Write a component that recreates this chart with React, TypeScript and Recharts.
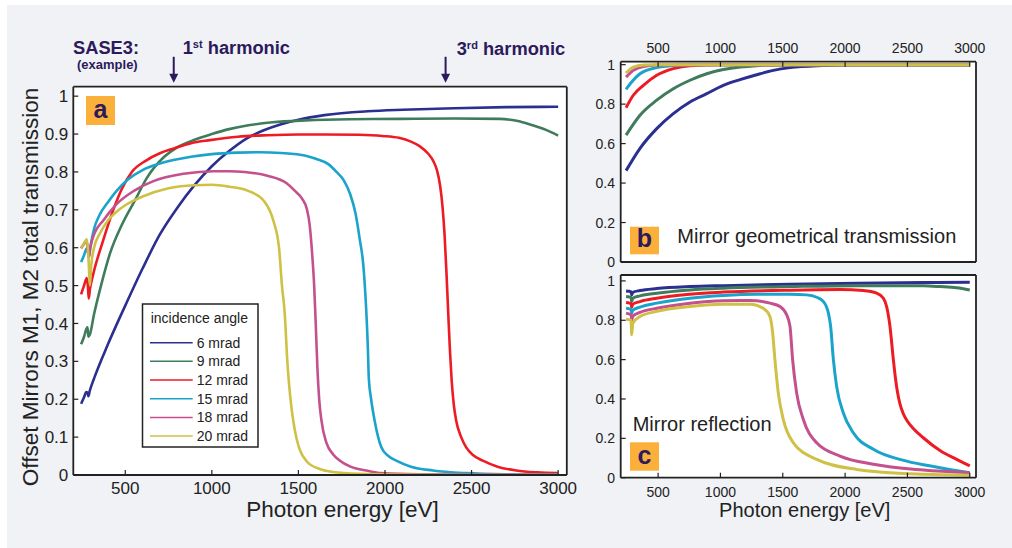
import { LineChart, Line, XAxis, YAxis, ReferenceLine, CartesianGrid } from "recharts";

const FONT = '"Liberation Sans", Arial, Helvetica, sans-serif';
const INK = "#222";
const NAVY = "#2d1a5c";
const ORANGE = "#fbb03b";

const angles = ["6 mrad", "9 mrad", "12 mrad", "15 mrad", "18 mrad", "20 mrad"];
const colors = ["#2b3090", "#3f7c5c", "#ed1c24", "#1aa3cb", "#c4508d", "#cfc145"];

const energyDomain: [number, number] = [200, 3050];
const energyTicks = [500, 1000, 1500, 2000, 2500, 3000];
const totalTicks = [0, 0.1, 0.2, 0.3, 0.4, 0.5, 0.6, 0.7, 0.8, 0.9, 1];
const fracTicks = [0, 0.2, 0.4, 0.6, 0.8, 1];
const harmonics = [780, 2350];

// (a) total transmission of the two offset mirrors
const totE6 = [245, 262, 275, 282, 287, 295, 320, 400, 500, 600, 700, 800, 900, 1000, 1100, 1200, 1300, 1400, 1500, 1650, 1900, 2100, 2400, 2700, 3000];
const tot6 = [0.188, 0.205, 0.219, 0.217, 0.208, 0.222, 0.255, 0.345, 0.447, 0.545, 0.635, 0.705, 0.765, 0.815, 0.855, 0.888, 0.91, 0.926, 0.938, 0.95, 0.96, 0.964, 0.968, 0.971, 0.972];
const totE9 = [245, 262, 275, 282, 287, 295, 320, 360, 412, 480, 556, 626, 725, 800, 900, 1000, 1100, 1211, 1350, 1542, 1800, 2100, 2400, 2661, 2760, 2853, 2930, 3000];
const tot9 = [0.345, 0.365, 0.385, 0.39, 0.365, 0.37, 0.425, 0.5, 0.585, 0.66, 0.725, 0.785, 0.84, 0.865, 0.885, 0.9, 0.913, 0.923, 0.931, 0.936, 0.939, 0.94, 0.941, 0.94, 0.935, 0.923, 0.911, 0.896];
const totE12 = [245, 262, 278, 284, 289, 296, 315, 373, 431, 480, 538, 620, 703, 780, 880, 990, 1150, 1321, 1500, 1653, 1850, 1984, 2080, 2150, 2200, 2250, 2280, 2300, 2318, 2332, 2344, 2355, 2365, 2375, 2385, 2397, 2411, 2440, 2469, 2510, 2565, 2650, 2758, 2880, 3000];
const tot12 = [0.477, 0.5, 0.52, 0.5, 0.466, 0.49, 0.53, 0.62, 0.7, 0.755, 0.8, 0.83, 0.85, 0.862, 0.876, 0.884, 0.893, 0.897, 0.899, 0.899, 0.898, 0.895, 0.89, 0.88, 0.868, 0.848, 0.828, 0.805, 0.765, 0.71, 0.635, 0.535, 0.43, 0.33, 0.25, 0.187, 0.144, 0.1, 0.073, 0.052, 0.038, 0.022, 0.012, 0.007, 0.005];
const totE15 = [245, 262, 277, 284, 290, 298, 320, 350, 400, 450, 515, 600, 700, 880, 1000, 1150, 1277, 1400, 1542, 1600, 1675, 1720, 1763, 1800, 1830, 1855, 1874, 1890, 1900, 1907, 1920, 1940, 1979, 2020, 2065, 2150, 2277, 2469, 2700, 3000];
const tot15 = [0.562, 0.58, 0.598, 0.59, 0.575, 0.6, 0.65, 0.685, 0.72, 0.75, 0.78, 0.805, 0.822, 0.84, 0.847, 0.851, 0.852, 0.85, 0.843, 0.835, 0.82, 0.8, 0.777, 0.74, 0.69, 0.62, 0.558, 0.45, 0.35, 0.252, 0.2, 0.144, 0.073, 0.05, 0.038, 0.022, 0.012, 0.005, 0.002, 0.001];
const totE18 = [245, 262, 277, 284, 290, 298, 320, 373, 450, 550, 659, 836, 1012, 1100, 1189, 1321, 1432, 1480, 1520, 1550, 1565, 1580, 1591, 1600, 1610, 1620, 1633, 1662, 1700, 1738, 1800, 1892, 1979, 2200, 2600, 3000];
const tot18 = [0.598, 0.61, 0.617, 0.595, 0.575, 0.6, 0.635, 0.672, 0.715, 0.75, 0.775, 0.795, 0.802, 0.802, 0.8, 0.79, 0.77, 0.75, 0.73, 0.7, 0.66, 0.58, 0.5, 0.4, 0.28, 0.2, 0.144, 0.085, 0.055, 0.038, 0.022, 0.012, 0.005, 0.002, 0.001, 0];
const totE20 = [245, 262, 277, 284, 290, 296, 303, 320, 354, 400, 450, 500, 600, 750, 900, 1000, 1100, 1210, 1300, 1355, 1388, 1405, 1421, 1436, 1452, 1470, 1490, 1507, 1550, 1623, 1700, 1850, 2100, 2500, 3000];
const tot20 = [0.6, 0.612, 0.622, 0.6, 0.55, 0.5, 0.55, 0.6, 0.638, 0.672, 0.695, 0.712, 0.735, 0.757, 0.765, 0.766, 0.761, 0.75, 0.724, 0.672, 0.6, 0.5, 0.427, 0.3, 0.21, 0.144, 0.095, 0.068, 0.035, 0.016, 0.008, 0.003, 0.001, 0, 0];

// (b) geometrical transmission
const geoE6 = [243, 355, 489, 622, 756, 890, 1023, 1157, 1291, 1424, 1558, 1825, 2093, 3000];
const geo6 = [0.463, 0.576, 0.676, 0.752, 0.811, 0.853, 0.895, 0.924, 0.949, 0.971, 0.985, 0.996, 1, 1];
const geoE9 = [243, 355, 489, 622, 756, 890, 1023, 1157, 1291, 1558, 3000];
const geo9 = [0.643, 0.744, 0.82, 0.878, 0.921, 0.954, 0.975, 0.988, 0.995, 1, 1];
const geoE12 = [243, 301, 382, 489, 622, 756, 1023, 3000];
const geo12 = [0.782, 0.845, 0.895, 0.946, 0.98, 0.995, 1, 1];
const geoE15 = [243, 288, 355, 489, 622, 756, 3000];
const geo15 = [0.875, 0.912, 0.954, 0.985, 0.996, 1, 1];
const geoE18 = [243, 301, 382, 489, 756, 3000];
const geo18 = [0.937, 0.971, 0.991, 0.998, 1, 1];
const geoE20 = [243, 301, 382, 489, 3000];
const geo20 = [0.958, 0.988, 0.998, 1, 1];

// (c) mirror reflectivity
const refE6 = [243, 270, 283, 288, 297, 355, 489, 756, 1023, 1558, 2093, 2627, 3000];
const ref6 = [0.949, 0.947, 0.945, 0.929, 0.942, 0.951, 0.961, 0.971, 0.976, 0.983, 0.988, 0.992, 0.993];
const refE9 = [243, 270, 283, 288, 297, 355, 489, 756, 1023, 1558, 2093, 2627, 2761, 2895, 3000];
const ref9 = [0.921, 0.918, 0.916, 0.895, 0.912, 0.924, 0.9375, 0.954, 0.963, 0.971, 0.976, 0.975, 0.971, 0.965, 0.954];
const refE12 = [243, 270, 283, 288, 297, 355, 489, 756, 1023, 1558, 1960, 2146, 2253, 2307, 2333, 2360, 2387, 2405, 2420, 2440, 2467, 2500, 2547, 2627, 2761, 2895, 3000];
const ref12 = [0.89, 0.887, 0.885, 0.866, 0.882, 0.895, 0.912, 0.932, 0.943, 0.953, 0.956, 0.951, 0.938, 0.912, 0.87, 0.769, 0.6, 0.5, 0.435, 0.375, 0.325, 0.287, 0.25, 0.203, 0.138, 0.093, 0.06];
const refE15 = [243, 270, 283, 288, 297, 355, 489, 756, 1023, 1290, 1558, 1691, 1771, 1826, 1866, 1884, 1906, 1932, 1986, 2066, 2227, 2494, 2761, 3000];
const ref15 = [0.861, 0.858, 0.856, 0.836, 0.851, 0.867, 0.887, 0.912, 0.926, 0.932, 0.932, 0.929, 0.917, 0.895, 0.836, 0.769, 0.6, 0.464, 0.329, 0.228, 0.144, 0.084, 0.051, 0.025];
const refE18 = [243, 270, 283, 288, 297, 355, 489, 756, 1023, 1237, 1398, 1478, 1531, 1558, 1579, 1611, 1665, 1772, 1959, 2227, 2627, 3000];
const ref18 = [0.836, 0.831, 0.829, 0.802, 0.82, 0.84, 0.861, 0.887, 0.899, 0.9, 0.887, 0.87, 0.828, 0.769, 0.6, 0.431, 0.296, 0.177, 0.11, 0.068, 0.039, 0.025];
const refE20 = [243, 270, 283, 288, 297, 355, 489, 756, 1023, 1237, 1343, 1397, 1419, 1437, 1464, 1504, 1585, 1772, 2093, 2627, 3000];
const ref20 = [0.806, 0.802, 0.8, 0.726, 0.785, 0.819, 0.845, 0.87, 0.882, 0.882, 0.861, 0.819, 0.735, 0.6, 0.431, 0.296, 0.177, 0.093, 0.042, 0.017, 0.012];

const zip = (e: number[], v: number[]) => e.map((x, i) => ({ e: x, v: v[i] }));

const totalSeries = [
  zip(totE6, tot6), zip(totE9, tot9), zip(totE12, tot12),
  zip(totE15, tot15), zip(totE18, tot18), zip(totE20, tot20),
];
const geoSeries = [
  zip(geoE6, geo6), zip(geoE9, geo9), zip(geoE12, geo12),
  zip(geoE15, geo15), zip(geoE18, geo18), zip(geoE20, geo20),
];
const refSeries = [
  zip(refE6, ref6), zip(refE9, ref9), zip(refE12, ref12),
  zip(refE15, ref15), zip(refE18, ref18), zip(refE20, ref20),
];

const fmt = (v: number) => (v === 0 || v === 1 ? String(v) : v.toFixed(1));

const axisCommon = {
  stroke: INK,
  allowDataOverflow: true,
  tickSize: -5,
  interval: 0 as const,
  axisLine: { strokeWidth: 1.8 },
  tickLine: { strokeWidth: 1.2 },
};

// vertical arrow pointing down at a harmonic energy
const Arrow = (p: any) => {
  const { x1, y1, x2, y2 } = p;
  return (
    <g>
      <line x1={x1} y1={y1} x2={x2} y2={y2 - 8} stroke={NAVY} strokeWidth={2} />
      <polygon points={`${x2 - 4.5},${y2 - 9} ${x2 + 4.5},${y2 - 9} ${x2},${y2}`} fill={NAVY} />
    </g>
  );
};

function PanelA() {
  const tick = { fill: INK, fontSize: 17, fontFamily: FONT };
  return (
    <LineChart width={600} height={548} margin={{ top: 0, right: 0, bottom: 0, left: 0 }}>
      <CartesianGrid fill="#fff" horizontal={false} vertical={false} />
      <XAxis {...axisCommon} dataKey="e" type="number" domain={energyDomain} ticks={energyTicks}
        height={73} tickMargin={12} tick={tick} />
      <XAxis {...axisCommon} xAxisId="top" orientation="top" dataKey="e" type="number"
        domain={energyDomain} ticks={energyTicks} height={86.7} tick={false} />
      <YAxis {...axisCommon} type="number" domain={[0, 1.025]} ticks={totalTicks}
        width={73.3} tickMargin={10} tick={tick} tickFormatter={fmt} />
      <YAxis {...axisCommon} yAxisId="right" orientation="right" type="number"
        domain={[0, 1.025]} ticks={totalTicks} width={33.2} tick={false} />
      {totalSeries.map((d, i) => (
        <Line key={angles[i]} data={d} dataKey="v" type="monotone" stroke={colors[i]}
          strokeWidth={2.6} dot={false} activeDot={false} isAnimationActive={false} />
      ))}
      {harmonics.map((h) => (
        <ReferenceLine key={h} segment={[{ x: h, y: 1.104 }, { x: h, y: 1.0355 }]}
          ifOverflow="visible" shape={Arrow} />
      ))}
    </LineChart>
  );
}

function SmallPanel({ series, yMax, height, topH, bottomH, labelsOnTop }: {
  series: { e: number; v: number }[][];
  yMax: number;
  height: number;
  topH: number;
  bottomH: number;
  labelsOnTop: boolean;
}) {
  const tick = { fill: INK, fontSize: 14, fontFamily: FONT };
  return (
    <LineChart width={422} height={height} margin={{ top: 0, right: 0, bottom: 0, left: 0 }}>
      <CartesianGrid fill="#fff" horizontal={false} vertical={false} />
      <XAxis {...axisCommon} dataKey="e" type="number" domain={energyDomain} ticks={energyTicks}
        height={bottomH} tickMargin={14} tick={labelsOnTop ? false : tick} />
      <XAxis {...axisCommon} xAxisId="top" orientation="top" dataKey="e" type="number"
        domain={energyDomain} ticks={energyTicks} height={topH} tickMargin={13.4}
        tick={labelsOnTop ? tick : false} />
      <YAxis {...axisCommon} type="number" domain={[0, yMax]} ticks={fracTicks}
        width={30.7} tickMargin={10.7} tick={tick} tickFormatter={fmt} />
      <YAxis {...axisCommon} yAxisId="right" orientation="right" type="number"
        domain={[0, yMax]} ticks={fracTicks} width={36} tick={false} />
      {series.map((d, i) => (
        <Line key={angles[i]} data={d} dataKey="v" type="monotone" stroke={colors[i]}
          strokeWidth={3} dot={false} activeDot={false} isAnimationActive={false} />
      ))}
    </LineChart>
  );
}

function Tag({ x, y, w, h, letter, base }: { x: number; y: number; w: number; h: number; letter: string; base: number }) {
  return (
    <g>
      <rect x={x} y={y} width={w} height={h} fill={ORANGE} />
      <text x={x + w / 2} y={base} textAnchor="middle" fontSize={25} fontWeight="bold" fill={NAVY}>
        {letter}
      </text>
    </g>
  );
}

export default function App() {
  return (
    <div style={{ position: "relative", width: 1012, height: 548, background: "#fff", overflow: "hidden", fontFamily: FONT }}>
      <style>{"body{margin:0}"}</style>
      <div style={{ position: "absolute", left: 7, top: 5, right: 0, bottom: 0, background: "#f0f2f5" }} />
      <div style={{ position: "absolute", left: 0, top: 0 }}>
        <PanelA />
      </div>
      <div style={{ position: "absolute", left: 590, top: 0 }}>
        <SmallPanel series={geoSeries} yMax={1.015} height={270} topH={61.7} bottomH={8} labelsOnTop />
      </div>
      <div style={{ position: "absolute", left: 590, top: 270 }}>
        <SmallPanel series={refSeries} yMax={1.03} height={278} topH={5} bottomH={70.3} labelsOnTop={false} />
      </div>
      <svg width={1012} height={548} style={{ position: "absolute", left: 0, top: 0, pointerEvents: "none" }}
        fontFamily={FONT}>
        <text x={73} y={54} fontSize={18.3} fontWeight="bold" fill={NAVY}>SASE3:</text>
        <text x={77} y={69} fontSize={13} fontWeight="bold" fill={NAVY}>(example)</text>
        <text x={182.7} y={54} fontSize={18.3} fontWeight="bold" fill={NAVY}>
          1<tspan dy={-6} fontSize={11}>st</tspan><tspan dy={6}> harmonic</tspan>
        </text>
        <text x={456.7} y={55} fontSize={18.3} fontWeight="bold" fill={NAVY}>
          3<tspan dy={-6} fontSize={11}>rd</tspan><tspan dy={6}> harmonic</tspan>
        </text>

        <text transform="translate(38,287) rotate(-90)" textAnchor="middle" fontSize={22.5} fill={INK}>
          Offset Mirrors M1, M2 total transmission
        </text>
        <text x={342.5} y={517.3} textAnchor="middle" fontSize={22.5} fill={INK}>Photon energy [eV]</text>
        <text x={804.7} y={516.7} textAnchor="middle" fontSize={20} fill={INK}>Photon energy [eV]</text>
        <text x={677.3} y={243.3} fontSize={20} fill={INK}>Mirror geometrical transmission</text>
        <text x={632.7} y={430.7} fontSize={20} fill={INK}>Mirror reflection</text>

        <Tag x={86} y={96} w={29} h={29} letter="a" base={118} />
        <Tag x={630} y={226.7} w={29} h={27.6} letter="b" base={247} />
        <Tag x={630} y={442.3} w={29} h={28.4} letter="c" base={463.5} />

        <rect x={142.5} y={304} width={115.5} height={143} fill="#fff" stroke={INK} strokeWidth={1.5} />
        <text x={150.7} y={323.3} fontSize={14} fill={INK}>incidence angle</text>
        {angles.map((a, i) => (
          <g key={a}>
            <line x1={150} x2={192.7} y1={342.7 + i * 18.67} y2={342.7 + i * 18.67} stroke={colors[i]} strokeWidth={1.5} />
            <text x={196.7} y={347.7 + i * 18.67} fontSize={14} fill={INK}>{a}</text>
          </g>
        ))}
      </svg>
    </div>
  );
}
